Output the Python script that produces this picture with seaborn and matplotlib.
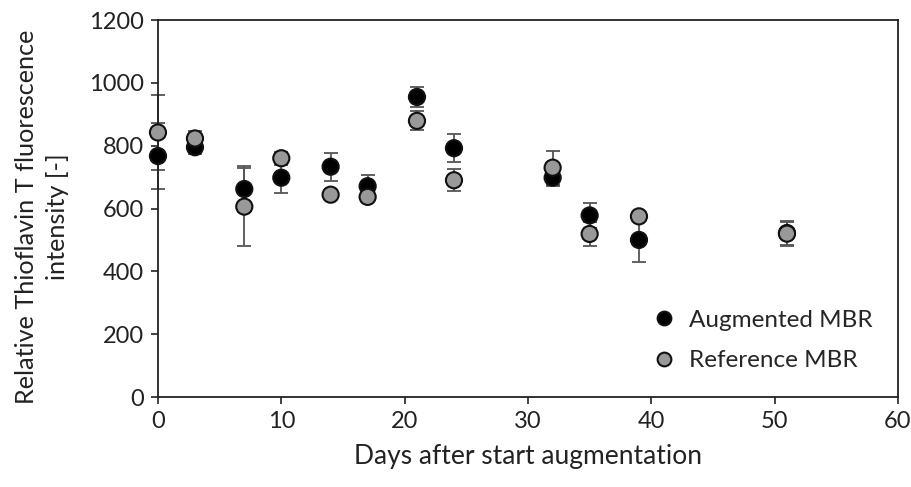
import matplotlib
matplotlib.use("Agg")
import matplotlib.pyplot as plt
import seaborn as sns
import pandas as pd

days = [0, 3, 7, 10, 14, 17, 21, 24, 32, 35, 39, 51]
augmented = [767, 795, 662, 698, 733, 671, 955, 792, 698, 578, 500, 522]
augmented_err = [105, 20, 72, 50, 45, 36, 33, 45, 25, 40, 70, 38]
reference = [842, 823, 606, 760, 644, 637, 879, 690, 730, 519, 575, 520]
reference_err = [120, 25, 124, 20, 10, 10, 30, 35, 54, 37, 10, 38]
series_names = ["Augmented MBR", "Reference MBR"]
series_colors = ["#000000", "#999999"]

sns.set_theme(style="white")
plt.rcParams['font.family'] = ['Lato', 'DejaVu Sans']

df = pd.DataFrame({
    "day": days * 2,
    "value": augmented + reference,
    "err": augmented_err + reference_err,
    "series": [series_names[0]] * len(days) + [series_names[1]] * len(days),
})

fig = plt.figure(figsize=(9.11, 4.87), dpi=100)
ax = fig.add_axes([0.1734, 0.1848, 0.9857 - 0.1734, 0.9589 - 0.1848])

for name in series_names:
    sub = df[df["series"] == name]
    ax.errorbar(sub["day"], sub["value"], yerr=sub["err"], fmt="none",
                ecolor="#555555", elinewidth=1.3, capsize=5, capthick=1.3,
                zorder=2, clip_on=False)

sns.scatterplot(data=df, x="day", y="value", hue="series", hue_order=series_names,
                palette=series_colors, s=135, edgecolor="#111111", linewidth=1.5,
                ax=ax, zorder=3, clip_on=False)

ax.set_xlim(0, 60)
ax.set_ylim(0, 1200)
ax.set_xticks(range(0, 61, 10))
ax.set_yticks(range(0, 1201, 200))
ax.tick_params(axis="both", direction="out", length=5, width=1.2, colors="#222222",
               labelsize=17, labelcolor="#222222", left=True, bottom=True, pad=5)
for sp in ax.spines.values():
    sp.set_color("#222222")
    sp.set_linewidth(1.3)
ax.set_xlabel("Days after start augmentation", fontsize=19, color="#222222", labelpad=9)
ax.set_ylabel("Relative Thioflavin T fluorescence\nintensity [-]", fontsize=18.2,
              color="#222222", linespacing=1.45)
ax.yaxis.set_label_coords(-0.12, 0.477)

handles, labels = ax.get_legend_handles_labels()
ax.legend(handles, labels, loc="lower right", bbox_to_anchor=(0.985, 0.03), frameon=False,
          fontsize=17.5, labelspacing=0.8, handletextpad=0.0, markerscale=0.85,
          borderaxespad=0.2)

fig.savefig("out.png", dpi=100)
